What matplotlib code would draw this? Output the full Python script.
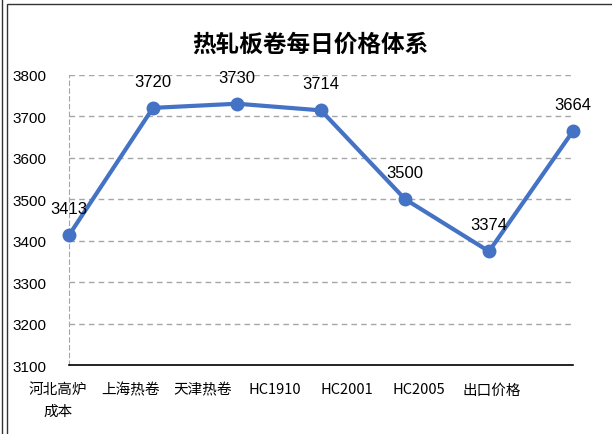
import numpy as np
import matplotlib.pyplot as plt
import matplotlib.transforms as mtransforms
from matplotlib.patches import Rectangle
from matplotlib.lines import Line2D

plt.rcParams['font.family'] = ['Noto Sans CJK SC', 'DejaVu Sans']

# Données
categories = ["河北高炉\n成本", "上海热卷", "天津热卷", "HC1910", "HC2001", "HC2005", "出口价格"]
prix = [3413, 3720, 3730, 3714, 3500, 3374, 3664]
y_ticks = [3100, 3200, 3300, 3400, 3500, 3600, 3700, 3800]

W, H = 612, 435
f = plt.figure(figsize=(W / 100, H / 100), dpi=100)
ax = f.add_axes([69 / W, 1 - 366 / H, (573 - 69) / W, (366 - 75.7) / H])

x = np.arange(len(prix))
ax.plot(x, prix, color='#4472C4', linewidth=3, marker='o', markersize=9, clip_on=False, zorder=3)

# Étiquettes de valeurs au-dessus des points
for xi, yi in zip(x, prix):
    ax.annotate(str(yi), (xi, yi), xytext=(0, 19), textcoords='offset points',
                ha='center', va='center', fontsize=12, family='Liberation Sans', color='black')

ax.set_yticks(y_ticks)
ax.set_yticklabels([str(v) for v in y_ticks], fontsize=11, family='Liberation Sans', ha='left')
ax.tick_params(axis='y', length=0, pad=41)

# Les étiquettes de catégories sont décalées vers la gauche comme sur l'original
ax.set_xticks([])
pos_lab = np.arange(len(categories)) * 0.86 - 0.13
trans = mtransforms.blended_transform_factory(ax.transData, ax.transAxes)
for p, lab in zip(pos_lab, categories):
    ax.text(p, -0.06, lab, transform=trans, ha='center', va='top', fontsize=10.5,
            linespacing=1.7, clip_on=False)

ax.set_xlim(0, len(prix) - 1)
ax.set_ylim(y_ticks[0], y_ticks[-1])

ax.grid(axis='y', color='#A6A6A6', linestyle=(0, (4, 3)), linewidth=1)
for s in ['top', 'right']:
    ax.spines[s].set_visible(False)
ax.spines['left'].set_color('#A6A6A6')
ax.spines['left'].set_linestyle((0, (4, 3)))
ax.spines['bottom'].set_color('black')
ax.spines['bottom'].set_linewidth(1.2)

f.text(310 / W, 1 - 45 / H, "热轧板卷每日价格体系", ha='center', va='center',
       fontsize=17, fontweight='heavy', color='black')

# Cadre autour du graphique
f.add_artist(Line2D([2 / W, 2 / W], [0, 1], transform=f.transFigure, color='#333333', linewidth=1))
f.add_artist(Rectangle((7 / W, -0.05), 1.1, 1 - 5 / H + 0.05, transform=f.transFigure,
                       fill=False, edgecolor='#333333', linewidth=1))

f.savefig("out.png", dpi=100)
